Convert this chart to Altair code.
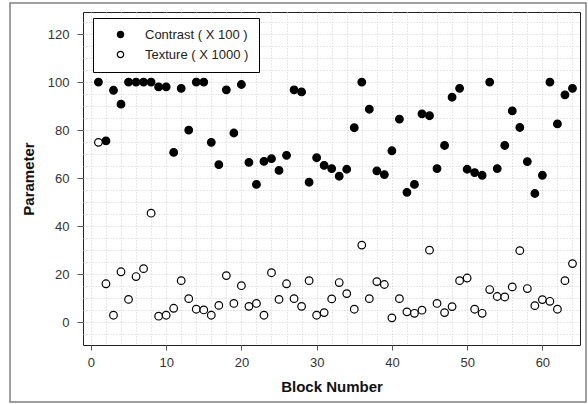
import altair as alt
import pandas as pd

blocks = list(range(1, 65))
contrast = [100, 75.5, 96.6, 90.8, 100, 100, 100, 100, 98, 98, 70.7, 97.4, 80, 100, 100, 74.9,
            65.6, 96.8, 78.8, 99, 66.6, 57.4, 67, 68.1, 63.2, 69.5, 96.8, 95.9, 58.3, 68.5, 65.3, 64,
            60.8, 63.7, 81, 100, 88.7, 63, 61.5, 71.4, 84.6, 54.1, 57.4, 86.8, 86, 64, 73.6, 93.7,
            97.4, 63.7, 62.3, 61.2, 100, 64, 73.6, 88, 81.1, 66.9, 53.6, 61.2, 100, 82.6, 94.7, 97.4]
texture = [74.9, 16, 2.9, 21, 9.5, 19, 22.3, 45.4, 2.5, 2.9, 5.8, 17.3, 9.8, 5.4, 5.1, 2.9,
           7, 19.4, 7.8, 15.2, 6.6, 7.8, 2.9, 20.6, 9.5, 16, 9.8, 6.6, 17.3, 2.9, 4, 9.7,
           16.5, 11.9, 5.4, 32.1, 9.8, 16.9, 15.7, 1.8, 9.8, 4.3, 3.7, 5, 30, 7.8, 4, 6.5,
           17.3, 18.4, 5.4, 3.7, 13.6, 10.7, 10.5, 14.7, 29.8, 14, 6.9, 9.4, 8.7, 5.4, 17.3, 24.4]
series_names = ["Contrast ( X 100 )", "Texture ( X 1000 )"]
x_ticks = list(range(0, 66, 2))
y_ticks = list(range(-5, 130, 5))

df = pd.DataFrame({
    "block": blocks * 2,
    "value": contrast + texture,
    "series": [series_names[0]] * len(blocks) + [series_names[1]] * len(blocks),
})

FONT = "Liberation Sans"

x_axis = alt.Axis(
    values=x_ticks,
    labelExpr="datum.value % 10 == 0 ? datum.label : ''",
    tickOpacity={"condition": {"test": "datum.value % 10 === 0", "value": 1}, "value": 0},
    grid=True, gridDash=[1, 2], gridColor="#d0d0d0", gridWidth=1,
    domain=False, tickSize=5, tickColor="#555555",
    labelFont=FONT, labelFontSize=13, labelColor="#333333", labelPadding=6,
    labelOverlap=False,
    title="Block Number", titleFont=FONT, titleFontSize=15, titleFontWeight="bold",
    titleColor="#111111", titlePadding=10,
)
y_axis = alt.Axis(
    values=y_ticks,
    labelExpr="datum.value % 20 == 0 ? datum.label : ''",
    tickOpacity={"condition": {"test": "datum.value % 20 === 0", "value": 1}, "value": 0},
    grid=True, gridDash=[1, 2], gridColor="#d0d0d0", gridWidth=1,
    domain=False, tickSize=6, tickColor="#555555",
    labelFont=FONT, labelFontSize=13, labelColor="#333333", labelPadding=8,
    labelOverlap=False,
    title="Parameter", titleFont=FONT, titleFontSize=15, titleFontWeight="bold",
    titleColor="#111111", titlePadding=11,
)

points = alt.Chart(df).mark_circle(
    size=58, stroke="black", strokeWidth=1.2, opacity=1
).encode(
    x=alt.X("block:Q", scale=alt.Scale(domain=[-1.05, 65], nice=False, zero=False), axis=x_axis),
    y=alt.Y("value:Q", scale=alt.Scale(domain=[-9.5, 129.2], nice=False, zero=False), axis=y_axis),
    fill=alt.Fill(
        "series:N",
        scale=alt.Scale(domain=series_names, range=["black", "white"]),
        legend=alt.Legend(
            title=None, orient="none", legendX=10, legendY=6,
            fillColor="white", strokeColor="black", padding=10,
            symbolType="circle", symbolSize=40, symbolStrokeColor="black",
            symbolStrokeWidth=1.2, symbolOffset=11, labelOffset=18,
            rowPadding=6, labelFont=FONT, labelFontSize=13, labelColor="#222222",
        ),
    ),
)

border = alt.Chart(pd.DataFrame({"a": [0]})).mark_rect(
    fill=None, stroke="#808080", strokeWidth=1.5
).encode(
    x=alt.value(-73), x2=alt.value(503), y=alt.value(-9), y2=alt.value(390)
)

chart = alt.layer(border, points).properties(
    width=497, height=333,
    autosize=alt.AutoSizeParams(type="none"),
    padding={"left": 83, "top": 12, "right": 8, "bottom": 59},
    background="white",
).configure_view(stroke="#222222", strokeWidth=1)

chart.save("out.html", embed_options={"renderer": "svg", "actions": False})
